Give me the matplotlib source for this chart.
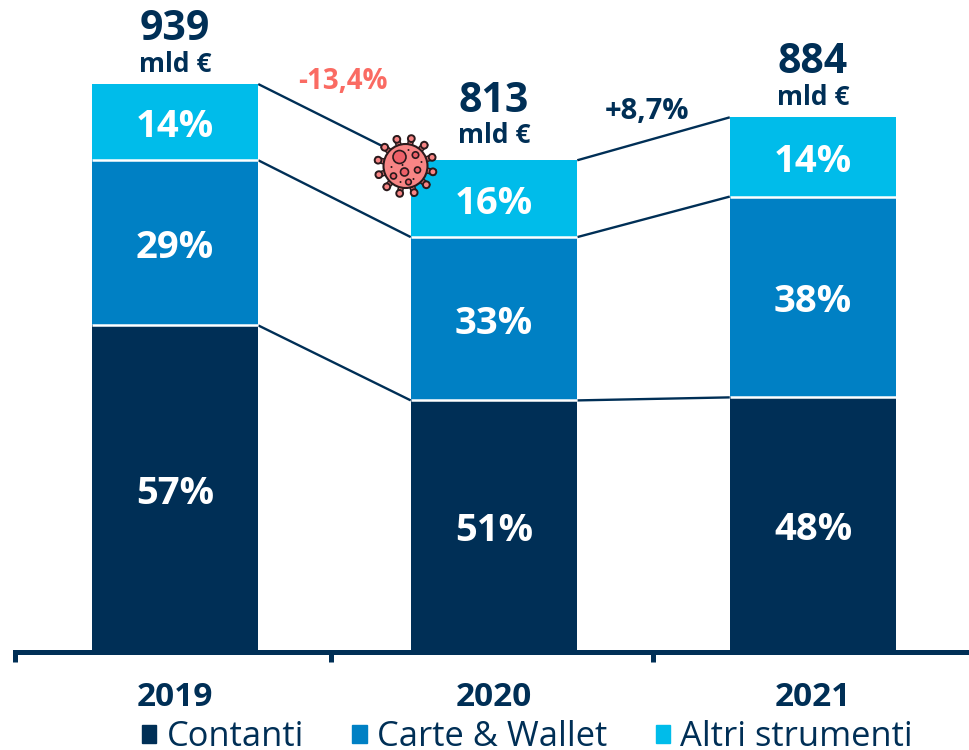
import matplotlib
matplotlib.use("Agg")
import matplotlib.pyplot as plt
from matplotlib.patches import Circle, Rectangle
from matplotlib.transforms import IdentityTransform
import numpy as np

plt.rcParams['font.family'] = ['Open Sans', 'DejaVu Sans']

# Data, mld euro
years = ['2019', '2020', '2021']
totals = [939, 813, 884]
contanti = np.array([540, 416, 421])
carte = np.array([273, 270, 332])
altri = np.array([126, 127, 131])
share_contanti = ['57%', '51%', '48%']
share_carte = ['29%', '33%', '38%']
share_altri = ['14%', '16%', '14%']
changes = ['-13,4%', '+8,7%']
legend_names = ['Contanti', 'Carte & Wallet', 'Altri strumenti']

NAVY = '#002F56'
BLUE = '#0080C4'
CYAN = '#00BCEA'
RED = '#FA6B63'
PINK = '#F88585'
DARK = '#2A1A1C'

fig = plt.figure(figsize=(9.69, 7.5), dpi=100)
ax = fig.add_axes([0, 0, 1, 1])
ax.set_xlim(-175 / 319, 794 / 319)
ax.set_ylim(-162, 1078)

x = np.arange(len(years))
width = 0.522
level2 = contanti + carte
level3 = level2 + altri

# Stacked bars
ax.bar(x, contanti, width, color=NAVY, zorder=2)
ax.bar(x, carte, width, bottom=contanti, color=BLUE, zorder=2)
ax.bar(x, altri, width, bottom=level2, color=CYAN, zorder=2)
for i in x:
    ax.plot([i - width / 2, i + width / 2], [contanti[i]] * 2, color='white', lw=1.8,
            zorder=3, solid_capstyle='butt')
    ax.plot([i - width / 2, i + width / 2], [level2[i]] * 2, color='white', lw=1.8,
            zorder=3, solid_capstyle='butt')

# Lines between the bars
for top in (contanti, level2, level3):
    for i in range(2):
        ax.plot([i + width / 2, i + 1 - width / 2], [top[i], top[i + 1]],
                color=NAVY, lw=1.7, zorder=1, solid_capstyle='butt')

# Percentages inside the bars
pct = dict(color='white', fontsize=27.5, fontweight='bold', ha='center', va='center', zorder=4)
for i in x:
    ax.text(i, contanti[i] / 2 - 8, share_contanti[i], **pct)
    ax.text(i, contanti[i] + carte[i] / 2 - 8, share_carte[i], **pct)
    ax.text(i, level2[i] + altri[i] / 2 - 8, share_altri[i], **pct)
    extra = 8 if i == 1 else 0
    ax.text(i, level3[i] + 33 + extra, 'mld €', color=NAVY, fontsize=19, fontweight='bold',
            ha='center', va='center')
    ax.text(i, level3[i] + 90 + extra, str(totals[i]), color=NAVY, fontsize=29.5, fontweight='bold',
            ha='center', va='center')
    ax.text(i, -75, years[i], color=NAVY, fontsize=24, fontweight='bold',
            ha='center', va='center')

ax.text(0.525, 943, changes[0], color=RED, fontsize=20, fontweight='bold', ha='center', va='center')
ax.text(1.48, 893, changes[1], color=NAVY, fontsize=21, fontweight='bold', ha='center', va='center')

# Axis line and ticks between the categories
for s in ['top', 'left', 'right']:
    ax.spines[s].set_visible(False)
ax.spines['bottom'].set_position(('data', 0))
ax.spines['bottom'].set_bounds(-0.5, 2.6)
ax.spines['bottom'].set_color(NAVY)
ax.spines['bottom'].set_linewidth(3.6)
ax.set_yticks([])
ax.set_xticks([-0.5, 0.49, 1.499])
ax.set_xticklabels([])
ax.tick_params(axis='x', length=7, width=3.6, color=NAVY, direction='out')

# Legend
handles = [Rectangle((0, 0), 1, 1, color=c) for c in (NAVY, BLUE, CYAN)]
leg = ax.legend(handles, legend_names, ncol=3, loc='lower left',
                bbox_to_anchor=(142 / 969, -0.006), frameon=False, fontsize=24.8,
                labelcolor=NAVY, handlelength=0.42, handleheight=0.42,
                handletextpad=0.3, columnspacing=1.4, borderpad=0, borderaxespad=0)

# Virus icon, drawn in pixels
def px(a, b):
    return a, 750 - b

cx, cy = 405.5, 166
px_tr = IdentityTransform()
for ang in np.arange(0, 360, 30) + 12:
    r = np.radians(ang)
    x0, y0 = px(cx + 20 * np.cos(r), cy + 20 * np.sin(r))
    x1, y1 = px(cx + 28 * np.cos(r), cy + 28 * np.sin(r))
    fig.add_artist(plt.Line2D([x0, x1], [y0, y1], color=DARK, lw=4.6, transform=px_tr, zorder=6))
    fig.add_artist(plt.Line2D([x0, x1], [y0, y1], color=PINK, lw=2.4, transform=px_tr, zorder=6.1))
    fig.add_artist(Circle((x1, y1), 3.4, fc=PINK, ec=DARK, lw=1.4, transform=px_tr, zorder=6.2))
fig.add_artist(Circle(px(cx, cy), 22, fc=PINK, ec=DARK, lw=1.5, transform=px_tr, zorder=6.3))
for a, b, rad in [(-6, -9, 6.5), (10, -11, 3.2), (-1, 6, 4), (12, 4, 3), (-12, 10, 3), (3, 16, 2.8)]:
    fig.add_artist(Circle(px(cx + a, cy + b), rad, fc='#EE6068', ec=DARK, lw=1.2, transform=px_tr, zorder=6.4))
for a, b in [(-14, 1), (3, -16), (-5, 16), (8, 13), (16, -4), (-3, -1)]:
    fig.add_artist(Circle(px(cx + a, cy + b), 1, fc=DARK, ec='none', transform=px_tr, zorder=6.4))

fig.savefig('out.png', dpi=100)
